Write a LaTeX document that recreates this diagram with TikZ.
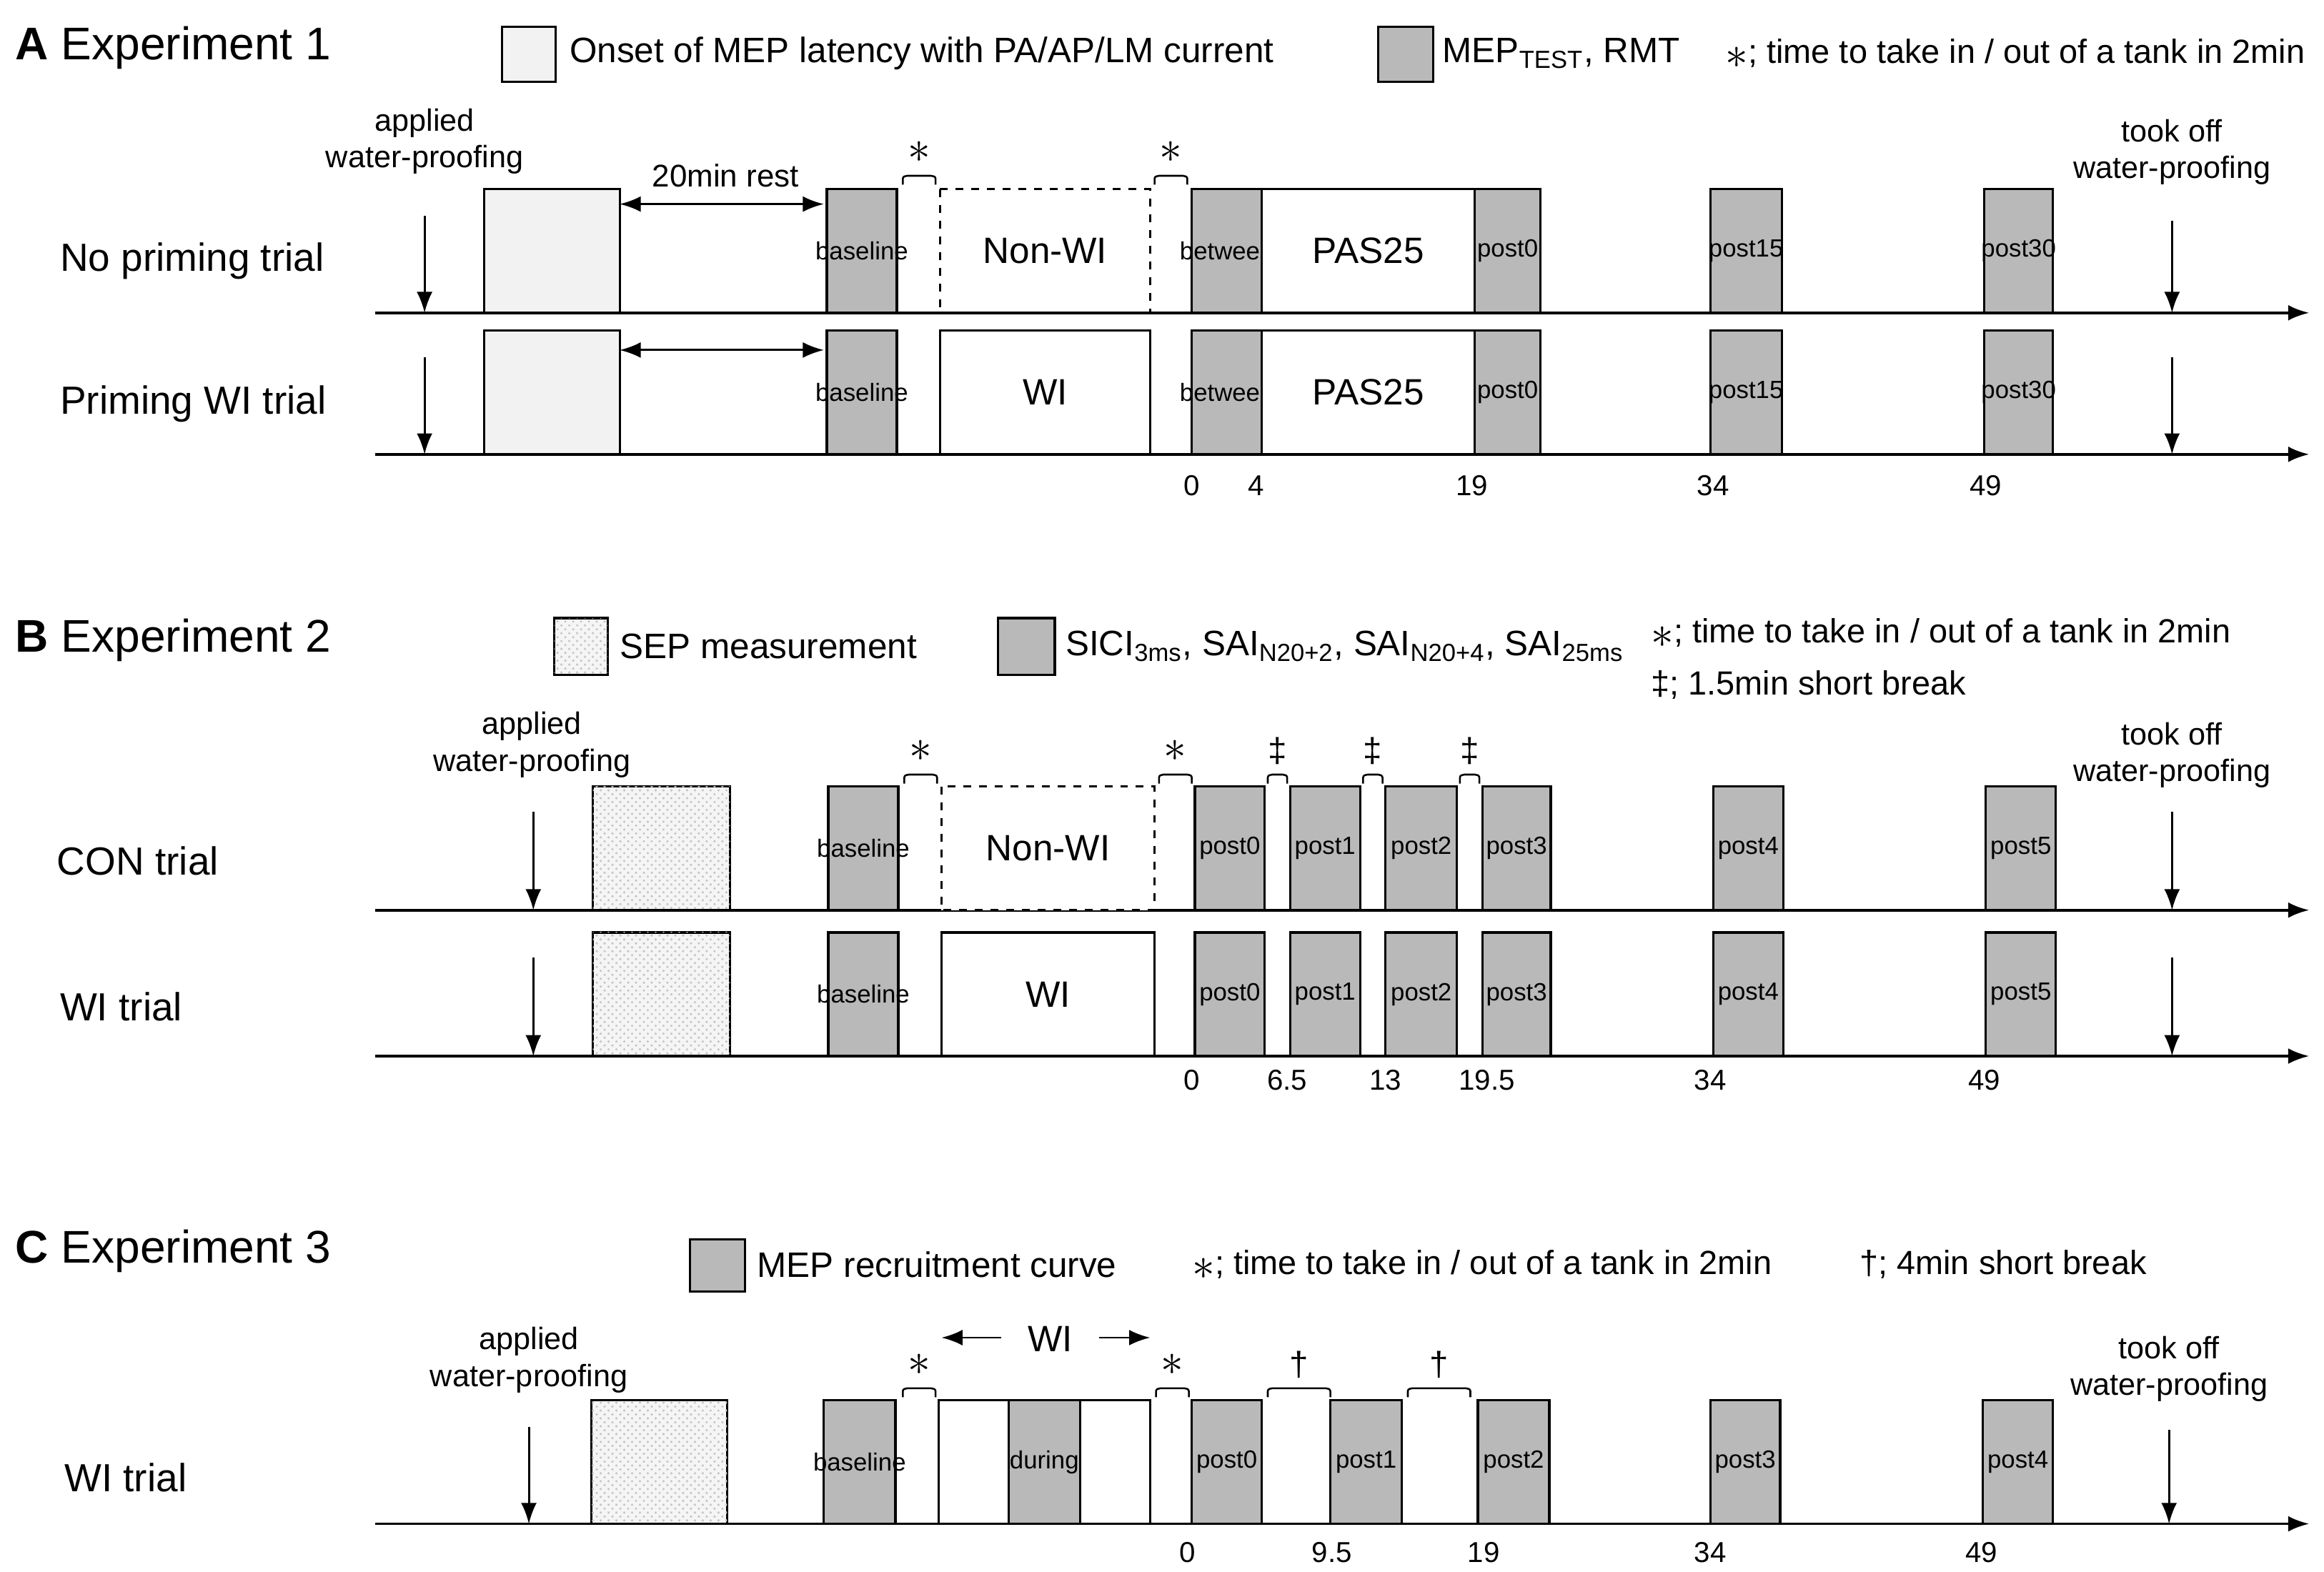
\documentclass[tikz,border=0pt]{standalone}
\usepackage{fontspec}
\setmainfont{Liberation Sans}
\usetikzlibrary{arrows.meta,patterns}
\begin{document}
\begin{tikzpicture}[x=0.02cm,y=-0.02cm,
  gbox/.style={draw=black,line width=0.9pt,fill=gray!55},
  wbox/.style={draw=black,line width=0.9pt,fill=white},
  dbox/.style={draw=black,line width=0.9pt,dashed,fill=white},
  lbox/.style={draw=black,line width=0.9pt,fill=gray!10},
  tbox/.style={draw=black,line width=0.9pt,fill=gray!8,postaction={pattern=crosshatch dots,pattern color=gray!45}},
  axis/.style={line width=1pt,-{Latex[length=8pt,width=6pt]}},
  darr/.style={line width=0.8pt,-{Latex[length=8pt,width=6pt]}},
  blab/.style={font=\fontsize{9.5}{10}\selectfont,inner sep=0pt},
  big/.style={font=\fontsize{14}{15}\selectfont,inner sep=0pt},
  ttl/.style={font=\fontsize{17.5}{19}\selectfont,inner sep=0pt,anchor=west},
  row/.style={font=\fontsize{15}{17}\selectfont,inner sep=0pt,anchor=west},
  leg/.style={font=\fontsize{13.5}{15}\selectfont,inner sep=0pt,anchor=west},
  legs/.style={font=\fontsize{12.8}{15}\selectfont,inner sep=0pt,anchor=west},
  num/.style={font=\fontsize{11}{12}\selectfont,inner sep=0pt},
  sm/.style={font=\fontsize{11.8}{14}\selectfont,align=center,inner sep=0pt},
  brk/.style={line width=0.7pt}]
\useasboundingbox (0,0) rectangle (1560,1055);
\newcommand\gb[5]{\draw[gbox] (#1,#3) rectangle (#2,#4); \node[blab] at ({(#1+#2)/2},{(#3+#4)/2}) {#5};}
\newcommand\bb[5]{\node[big] at ({(#1+#2)/2},{(#3+#4)/2}) {#5};}
\newcommand\brc[4]{\draw[brk] (#1,#3+6) -- (#1,#3+2) to[out=90,in=180] (#1+3,#3) -- (#2-3,#3) to[out=0,in=90] (#2,#3+2) -- (#2,#3+6); \node[font=\fontsize{13}{14}\selectfont,inner sep=0pt] at ({(#1+#2)/2},#3-16) {#4};}
\newcommand\myast{\raisebox{-0.3ex}{\fontsize{16}{16}\selectfont$\ast$}}
% ================= A
\node[ttl] (tA) at (10,32) {\textbf{A} Experiment 1};
\draw[lbox] (337,18) rectangle (373,55);
\node[leg] (lA1) at (382,36) {Onset of MEP latency with PA/AP/LM current};
\draw[gbox] (925,18) rectangle (962,55);
\node[leg] (lA2) at (968,36) {MEP\textsubscript{TEST}, RMT};
\node[legs] (lA3) at (1158,36) {\myast; time to take in / out of a tank in 2min};
\node[sm] (apA) at (285,95) {applied\\water-proofing};
\node[sm] (tkA) at (1458,102) {took off\\water-proofing};
\node[row] (rA1) at (40,175) {No priming trial};
\node[row] (rA2) at (40,271) {Priming WI trial};
% row 1
\draw[lbox] (325,127) rectangle (416,210);
\draw[line width=0.8pt,{Latex[length=8pt,width=6pt]}-{Latex[length=8pt,width=6pt]}] (416,137) -- (553,137);
\node[num,font=\fontsize{12}{13}\selectfont] (rest) at (487,118) {20min rest};
\gb{555}{602}{127}{210}{baseline}
\brc{606}{628}{118}{\myast}
\draw[dbox] (631,127) rectangle (772,210); \bb{631}{772}{127}{210}{Non-WI}
\brc{775}{797}{118}{\myast}
\gb{800}{847}{127}{210}{between}
\draw[wbox] (847,127) rectangle (990,210); \bb{847}{990}{127}{210}{PAS25}
\gb{990}{1034}{127}{210}{post0}
\gb{1148}{1196}{127}{210}{post15}
\gb{1332}{1378}{127}{210}{post30}
\draw[axis] (252,210) -- (1550,210);
\draw[darr] (285,145) -- (285,210);
\draw[darr] (1458,148) -- (1458,210);
% row 2
\draw[lbox] (325,222) rectangle (416,305);
\draw[line width=0.8pt,{Latex[length=8pt,width=6pt]}-{Latex[length=8pt,width=6pt]}] (416,235) -- (553,235);
\gb{555}{602}{222}{305}{baseline}
\draw[wbox] (631,222) rectangle (772,305); \bb{631}{772}{222}{305}{WI}
\gb{800}{847}{222}{305}{between}
\draw[wbox] (847,222) rectangle (990,305); \bb{847}{990}{222}{305}{PAS25}
\gb{990}{1034}{222}{305}{post0}
\gb{1148}{1196}{222}{305}{post15}
\gb{1332}{1378}{222}{305}{post30}
\draw[axis] (252,305) -- (1550,305);
\draw[darr] (285,240) -- (285,305);
\draw[darr] (1458,240) -- (1458,305);
\foreach \x/\l in {800/0,843/4,988/19,1150/34,1333/49} \node[num] at (\x,326) {\l};
% ================= B
\node[ttl] (tB) at (10,430) {\textbf{B} Experiment 2};
\draw[tbox] (372,415) rectangle (408,453);
\node[leg] (lB1) at (416,434) {SEP measurement};
\draw[gbox] (670,415) rectangle (708,453);
\node[leg] (lB2) at (715,434) {SICI\textsubscript{3ms}, SAI\textsubscript{N20+2}, SAI\textsubscript{N20+4}, SAI\textsubscript{25ms}};
\node[legs] (lB3) at (1108,425) {\myast; time to take in / out of a tank in 2min};
\node[legs] (lB4) at (1108,460) {‡; 1.5min short break};
\node[sm] (apB) at (357,500) {applied\\water-proofing};
\node[sm] (tkB) at (1458,507) {took off\\water-proofing};
\node[row] (rB1) at (38,578) {CON trial};
\node[row] (rB2) at (40,676) {WI trial};
\foreach \t/\b in {528/611,626/709}{
  \draw[tbox] (398,\t) rectangle (490,\b);
  \gb{556}{603}{\t}{\b}{baseline}
  \gb{802}{849}{\t}{\b}{post0}
  \gb{866}{913}{\t}{\b}{post1}
  \gb{930}{978}{\t}{\b}{post2}
  \gb{995}{1041}{\t}{\b}{post3}
  \gb{1150}{1197}{\t}{\b}{post4}
  \gb{1333}{1380}{\t}{\b}{post5}
  \draw[axis] (252,\b) -- (1550,\b);
  \draw[darr] (358,\t+17) -- (358,\b);
  \draw[darr] (1458,\t+17) -- (1458,\b);
}
\draw[dbox] (632,528) rectangle (775,611); \bb{632}{775}{528}{611}{Non-WI}
\draw[wbox] (632,626) rectangle (775,709); \bb{632}{775}{626}{709}{WI}
\brc{607}{629}{520}{\myast}
\brc{778}{800}{520}{\myast}
\brc{851}{864}{520}{‡}
\brc{915}{928}{520}{‡}
\brc{980}{993}{520}{‡}
\foreach \x/\l in {800/0,864/6.5,930/13,998/19.5,1148/34,1332/49} \node[num] at (\x,725) {\l};
% ================= C
\node[ttl] (tC) at (10,840) {\textbf{C} Experiment 3};
\draw[gbox] (463,832) rectangle (500,867);
\node[leg] (lC1) at (508,849) {MEP recruitment curve};
\node[legs] (lC2) at (800,849) {\myast; time to take in / out of a tank in 2min};
\node[legs] (lC3) at (1248,849) {†; 4min short break};
\node[sm] (apC) at (355,913) {applied\\water-proofing};
\node[sm] (tkC) at (1456,919) {took off\\water-proofing};
\node[row] (rC1) at (43,992) {WI trial};
\draw[tbox] (397,940) rectangle (488,1023);
\gb{553}{601}{940}{1023}{baseline}
\draw[wbox] (630,940) rectangle (772,1023);
\gb{677}{725}{940}{1023}{during}
\node[big] (wiC) at (705,899) {WI};
\draw[darr] (672,898) -- (632,898);
\draw[darr] (738,898) -- (772,898);
\brc{606}{628}{932}{\myast}
\brc{776}{798}{932}{\myast}
\gb{800}{847}{940}{1023}{post0}
\brc{851}{893}{932}{†}
\gb{893}{941}{940}{1023}{post1}
\brc{945}{987}{932}{†}
\gb{992}{1040}{940}{1023}{post2}
\gb{1148}{1195}{940}{1023}{post3}
\gb{1331}{1378}{940}{1023}{post4}
\draw[axis] (252,1023) -- (1550,1023);
\draw[darr] (355,958) -- (355,1023);
\draw[darr] (1456,960) -- (1456,1023);
\foreach \x/\l in {797/0,894/9.5,996/19,1148/34,1330/49} \node[num] at (\x,1042) {\l};
\end{tikzpicture}
\end{document}
